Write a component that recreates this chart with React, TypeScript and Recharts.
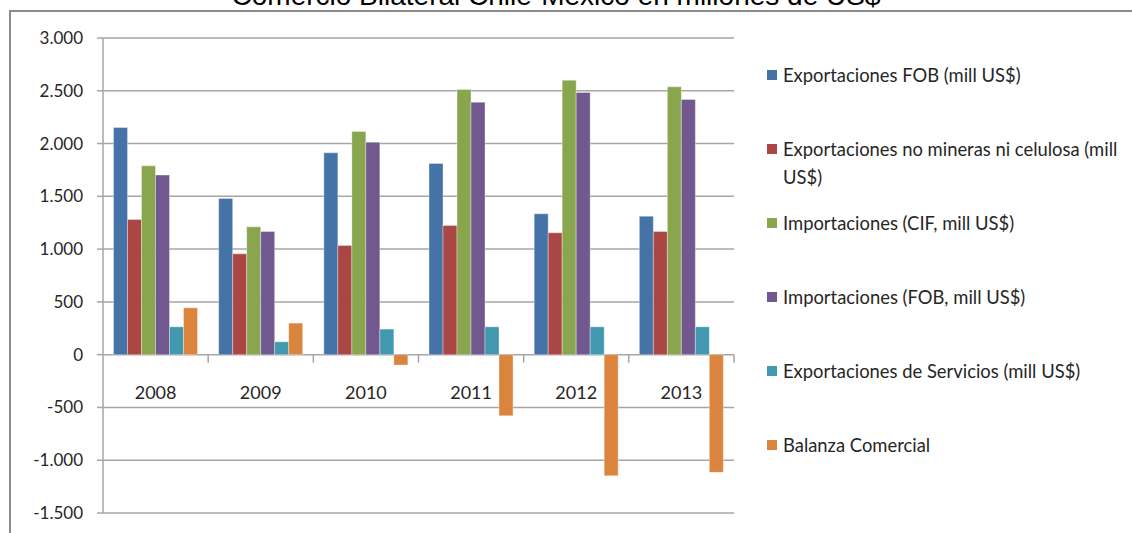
import React from 'react';
import { BarChart, Bar, XAxis, YAxis, CartesianGrid, Legend } from 'recharts';

const title = 'Comercio Bilateral Chile-México en millones de US$';
const years = ['2008', '2009', '2010', '2011', '2012', '2013'];
const exportacionesFob = [2152, 1480, 1912, 1811, 1334, 1312];
const exportacionesNoMineras = [1281, 955, 1035, 1224, 1154, 1167];
const importacionesCif = [1789, 1211, 2114, 2512, 2600, 2537];
const importacionesFob = [1701, 1167, 2013, 2392, 2484, 2418];
const exportacionesServicios = [264, 122, 242, 264, 264, 264];
const balanzaComercial = [444, 299, -98, -579, -1147, -1115];

const seriesKeys = ['expFob', 'expNoMin', 'impCif', 'impFob', 'expServ', 'balanza'];
const seriesNames = [
  'Exportaciones FOB (mill US$)',
  'Exportaciones no mineras ni celulosa (mill US$)',
  'Importaciones (CIF, mill US$)',
  'Importaciones (FOB, mill US$)',
  'Exportaciones de Servicios (mill US$)',
  'Balanza Comercial',
];
const seriesColors = ['#4572A7', '#AA4643', '#89A54E', '#71588F', '#4198AF', '#DB843D'];
const yTicks = [-1500, -1000, -500, 0, 500, 1000, 1500, 2000, 2500, 3000];

const data = years.map((year, i) => ({
  year,
  expFob: exportacionesFob[i],
  expNoMin: exportacionesNoMineras[i],
  impCif: importacionesCif[i],
  impFob: importacionesFob[i],
  expServ: exportacionesServicios[i],
  balanza: balanzaComercial[i],
}));

const W = 1132;
const H = 533;
const MARGIN = { top: 38, right: 398, bottom: 10, left: 0 };
const X_AXIS_H = 10;
const Y_AXIS_W = 103;
const Y_MIN = -1500;
const Y_MAX = 3000;
const PLOT_H = H - MARGIN.top - MARGIN.bottom - X_AXIS_H;
const PLOT_W = W - MARGIN.left - MARGIN.right - Y_AXIS_W;
const ZERO_Y = MARGIN.top + (PLOT_H * (Y_MAX - 0)) / (Y_MAX - Y_MIN);
const FONT = 'Lato, "Open Sans", sans-serif';
const AXIS_COLOR = '#a6a6a6';
const TEXT_COLOR = '#262626';

const fmt = (v: number) => {
  const s = Math.abs(v).toString().replace(/\B(?=(\d{3})+(?!\d))/g, '.');
  return (v < 0 ? '-' : '') + s;
};

const renderXTick = (props: any) => {
  const { x, payload } = props;
  const half = payload && payload.offset ? payload.offset : PLOT_W / years.length / 2;
  return (
    <g key={`xt-${payload.value}`}>
      <line x1={x + half} x2={x + half} y1={ZERO_Y} y2={ZERO_Y + 8} stroke={AXIS_COLOR} strokeWidth={1.5} />
      <text x={x} y={ZERO_Y + 44} textAnchor="middle" fontFamily={FONT} fontSize={18} fill={TEXT_COLOR}>
        {payload.value}
      </text>
    </g>
  );
};

const renderLegend = () => (
  <div style={{ fontFamily: FONT, fontSize: 18.4, color: TEXT_COLOR, width: 365 }}>
    {seriesNames.map((name, i) => (
      <div key={name} style={{ height: 74, display: 'flex', alignItems: 'flex-start' }}>
        <div
          style={{
            width: 10,
            height: 10,
            background: seriesColors[i],
            marginTop: 9,
            marginRight: 6,
            flexShrink: 0,
          }}
        />
        <div style={{ lineHeight: '28px', width: 345 }}>{name}</div>
      </div>
    ))}
  </div>
);

export default function App() {
  return (
    <div
      style={{
        position: 'absolute',
        left: 0,
        top: 0,
        width: W,
        height: H,
        overflow: 'hidden',
        background: '#ffffff',
      }}
    >
      <div
        style={{
          position: 'absolute',
          left: 9,
          top: 10,
          width: 1300,
          height: 700,
          borderTop: '2px solid #8c8c8c',
          borderLeft: '2px solid #8c8c8c',
        }}
      />
      <div
        style={{
          position: 'absolute',
          left: 0,
          width: 1112,
          top: -18,
          lineHeight: '28px',
          textAlign: 'center',
          fontFamily: '"Liberation Sans", Arial, sans-serif',
          fontSize: 28,
          color: '#000',
          whiteSpace: 'nowrap',
        }}
      >
        {title}
      </div>
      <div style={{ position: 'absolute', left: 0, top: 0 }}>
        <BarChart width={W} height={H} data={data} margin={MARGIN} barCategoryGap="10%" barGap={0}>
          <CartesianGrid vertical={false} stroke={AXIS_COLOR} strokeWidth={1.5} />
          <XAxis
            dataKey="year"
            height={X_AXIS_H}
            axisLine={false}
            tickLine={false}
            tick={renderXTick}
            interval={0}
          />
          <YAxis
            width={Y_AXIS_W}
            domain={[Y_MIN, Y_MAX]}
            ticks={yTicks}
            interval={0}
            tickFormatter={fmt}
            axisLine={{ stroke: AXIS_COLOR, strokeWidth: 1.5 }}
            tickLine={{ stroke: AXIS_COLOR, strokeWidth: 1.5 }}
            tickSize={6}
            tickMargin={14}
            tick={{ fontFamily: FONT, fontSize: 17, fill: TEXT_COLOR }}
          />
          <Legend
            layout="vertical"
            align="center"
            verticalAlign="middle"
            content={renderLegend}
            wrapperStyle={{ left: 767, top: 61, width: 365 }}
          />
          {seriesKeys.map((k, i) => (
            <Bar
              key={k}
              dataKey={k}
              name={seriesNames[i]}
              fill={seriesColors[i]}
              stroke="#ffffff"
              strokeOpacity={0.35}
              strokeWidth={1}
              isAnimationActive={false}
            />
          ))}
        </BarChart>
      </div>
    </div>
  );
}
